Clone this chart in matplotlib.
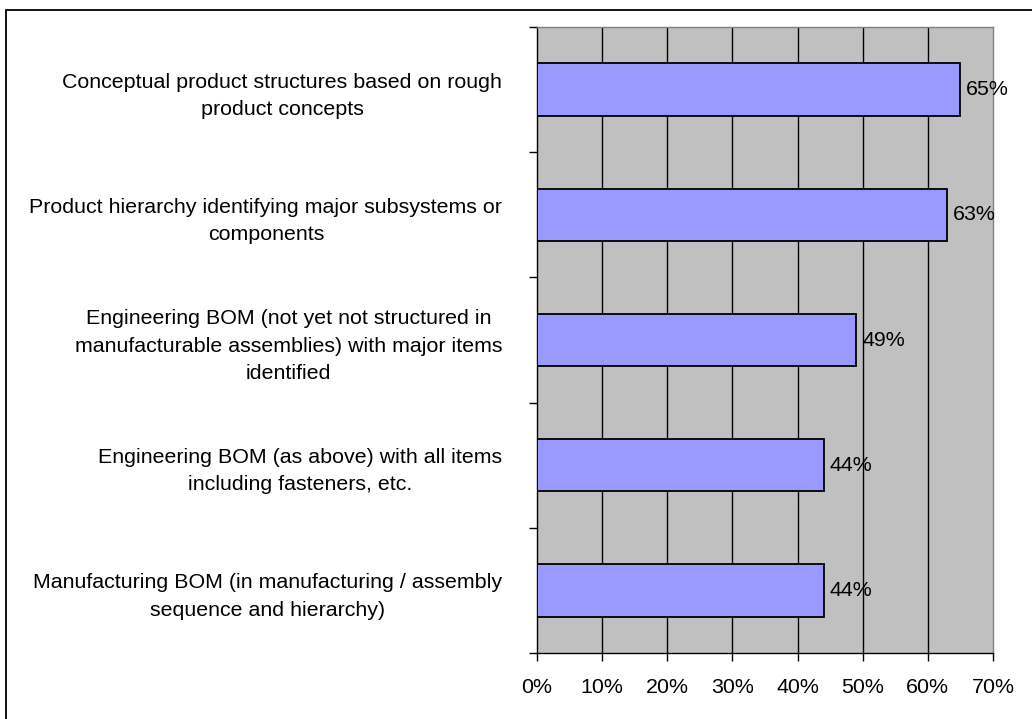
import matplotlib
matplotlib.use("Agg")

import matplotlib.pyplot as plt
from matplotlib.patches import Rectangle
import numpy as np

categories = [
    "Conceptual product structures based on rough\nproduct concepts",
    "Product hierarchy identifying major subsystems or\ncomponents",
    "Engineering BOM (not yet not structured in\nmanufacturable assemblies) with major items\nidentified",
    "Engineering BOM (as above) with all items\nincluding fasteners, etc.",
    "Manufacturing BOM (in manufacturing / assembly\nsequence and hierarchy)",
]
values = [65, 63, 49, 44, 44]
xticks = [0, 10, 20, 30, 40, 50, 60, 70]

plt.rcParams["font.family"] = ["Liberation Sans", "DejaVu Sans"]
fs = 15.4

fig = plt.figure(figsize=(10.32, 7.19), dpi=100)
ax = fig.add_axes([537 / 1032, 1 - 653 / 719, 456 / 1032, 626 / 719])

# outer chart frame
fig.patches.append(Rectangle((6 / 1032, -0.1), 1.2, 1 - 10 / 719 + 0.1,
                             transform=fig.transFigure, fill=False,
                             edgecolor="black", linewidth=1.3))

ax.set_facecolor("#C0C0C0")
y = np.arange(len(categories))
ax.barh(y, values, height=0.42, color="#9999FF", edgecolor="black",
        linewidth=1.3, zorder=3)

for yi, v in zip(y, values):
    ax.text(v + 0.9, yi, f"{v}%", va="center", ha="left", fontsize=fs, zorder=4)

ax.set_xlim(0, 70)
ax.set_ylim(len(categories) - 0.5, -0.5)

ax.set_xticks(xticks)
ax.set_xticklabels([f"{t}%" for t in xticks], fontsize=fs)
ax.tick_params(axis="x", direction="out", length=6, width=1, pad=12)
for t in xticks[1:-1]:
    ax.axvline(t, color="black", linewidth=1, zorder=1)

# labels at category centres, tick marks at category boundaries
ax.set_yticks(y)
ax.set_yticklabels(categories, fontsize=fs, multialignment="center",
                   linespacing=1.55)
ax.tick_params(axis="y", which="major", length=0, pad=25)
ax.set_yticks(np.arange(-0.5, len(categories)), minor=True)
ax.tick_params(axis="y", which="minor", direction="out", length=6, width=1)

ax.spines["left"].set_color("black")
ax.spines["bottom"].set_color("black")
ax.spines["top"].set_color("#808080")
ax.spines["right"].set_color("#808080")
for s in ax.spines.values():
    s.set_linewidth(1)

fig.savefig("out.png", dpi=100)
plt.close(fig)
